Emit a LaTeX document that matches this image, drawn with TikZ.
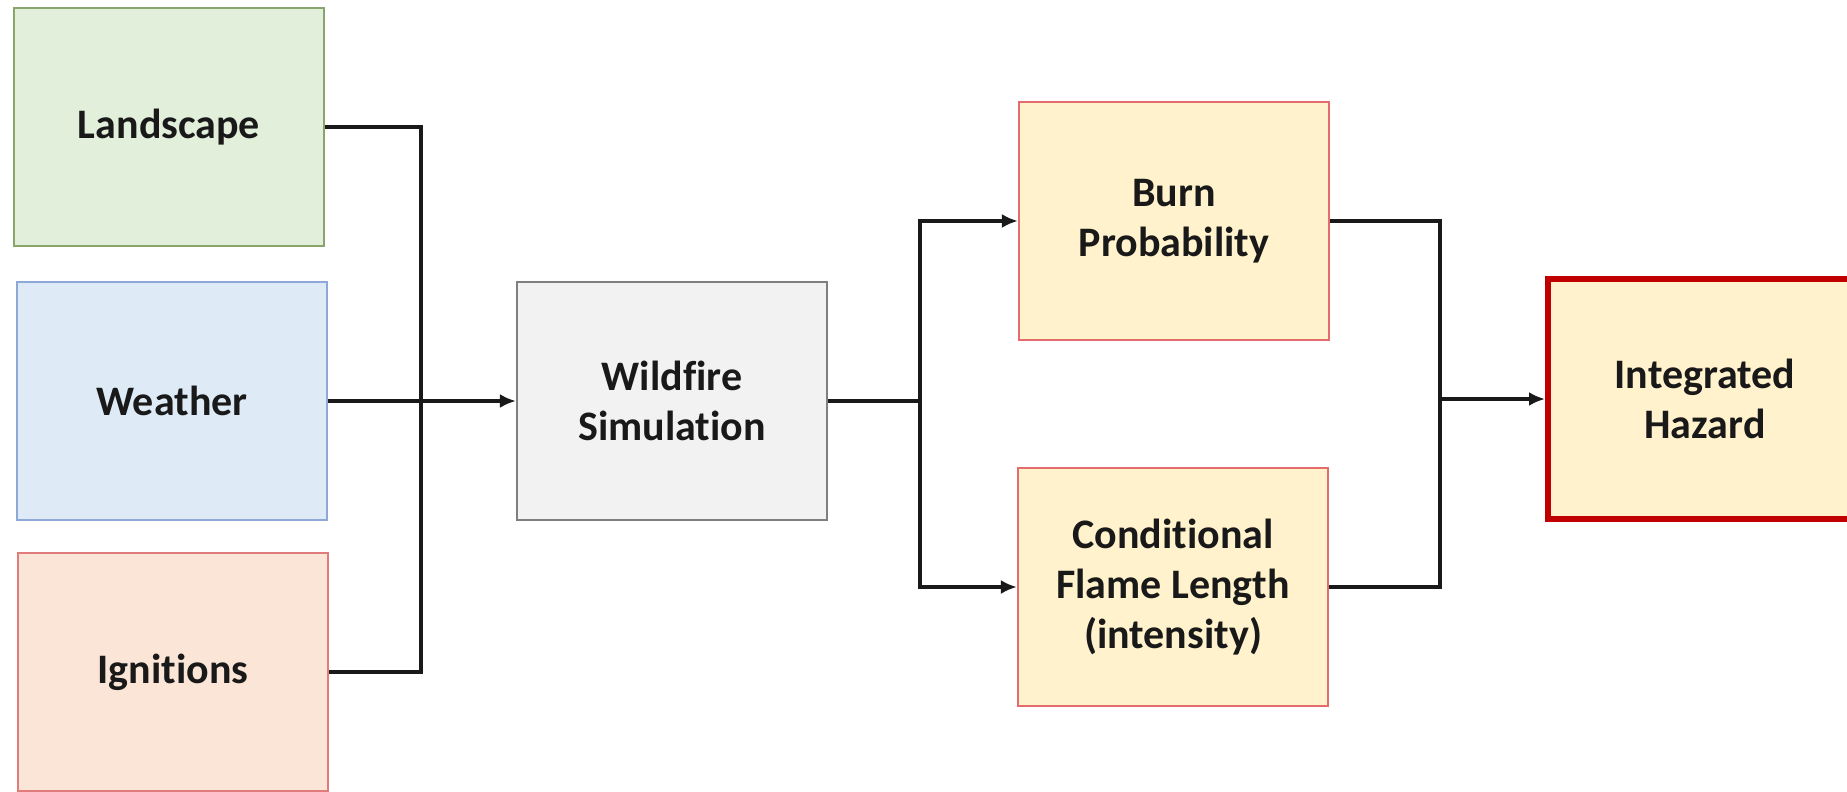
\documentclass[tikz,border=0pt]{standalone}
\usepackage{fontspec}
\setmainfont{Carlito}[Ligatures=NoCommon]
\usetikzlibrary{arrows.meta}
\definecolor{landfill}{HTML}{E2EFDA}
\definecolor{landdraw}{HTML}{8AA56C}
\definecolor{weatherfill}{HTML}{DEEBF7}
\definecolor{weatherdraw}{HTML}{8EA9D8}
\definecolor{ignfill}{HTML}{FBE5D6}
\definecolor{igndraw}{HTML}{E07C7C}
\definecolor{simfill}{HTML}{F2F2F2}
\definecolor{simdraw}{HTML}{7F7F7F}
\definecolor{outfill}{HTML}{FFF2CC}
\definecolor{outdraw}{HTML}{E46C6C}
\definecolor{hazdraw}{HTML}{C00000}
\begin{document}
\begin{tikzpicture}[x=1pt,y=-1pt,
  box/.style={draw, line width=2.2pt, minimum width=310pt, minimum height=238pt,
    align=center, inner sep=0pt, text=black!90,
    font=\bfseries\fontsize{42}{50}\selectfont},
  conn/.style={line width=3.4pt, black!90},
  arr/.style={conn, -{Latex[length=16pt,width=14pt]}}]
\useasboundingbox (0,0) rectangle (1847,792);
\clip (0,0) rectangle (1847,792);
\fill[white] (0,0) rectangle (1847,792);
% nodes
\node[box, fill=landfill, draw=landdraw] (land) at (169,127) {Landscape};
\node[box, fill=weatherfill, draw=weatherdraw] (weather) at (172,401) {Weather};
\node[box, fill=ignfill, draw=igndraw] (ign) at (173,672) {Ignitions};
\node[box, fill=simfill, draw=simdraw] (sim) at (672,401) {Wildfire\\Simulation};
\node[box, fill=outfill, draw=outdraw] (burn) at (1174,221) {Burn\\Probability};
\node[box, fill=outfill, draw=outdraw] (cond) at (1173,587) {Conditional\\Flame Length\\(intensity)};
\node[box, fill=outfill, draw=hazdraw, line width=6pt, minimum width=314pt, minimum height=240pt] (haz) at (1705,399) {Integrated\\Hazard};
% junctions
\coordinate (jL) at (421,401);
\coordinate (jS) at (920,401);
\coordinate (jR) at (1440,399);
% connectors
\draw[conn] (land.east) -| (jL);
\draw[conn] (ign.east) -| (jL);
\draw[arr] (weather.east) -- (sim.west);
\draw[conn] (sim.east) -- (jS);
\draw[arr] (jS) |- (burn.west);
\draw[arr] (jS) |- (cond.west);
\draw[conn] (burn.east) -| (jR);
\draw[conn] (cond.east) -| (jR);
\draw[arr] (jR) -- (haz.west);
\end{tikzpicture}
\end{document}
